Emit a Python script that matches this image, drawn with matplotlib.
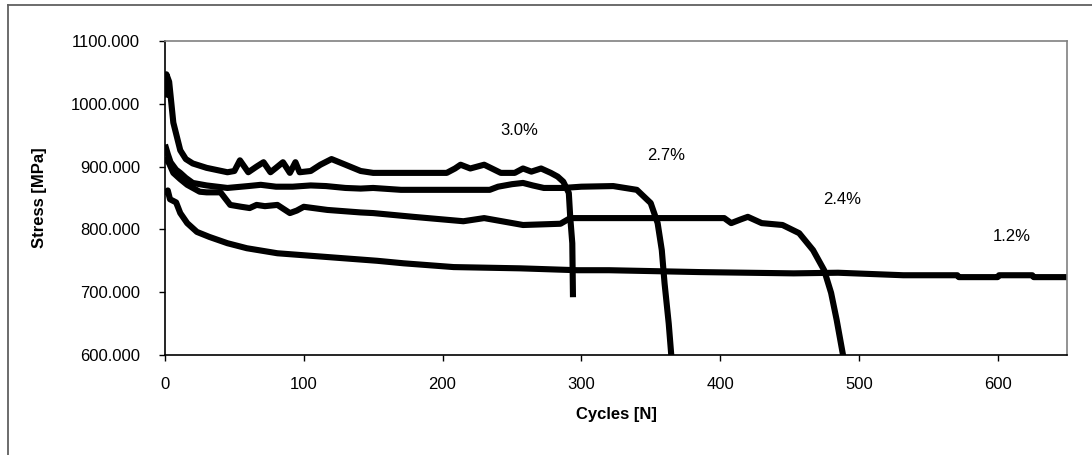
import matplotlib
matplotlib.use("Agg")
import matplotlib.pyplot as plt
from matplotlib.lines import Line2D
from matplotlib.ticker import FormatStrFormatter

plt.rcParams['font.family'] = ['Liberation Sans', 'DejaVu Sans']

# strain amplitude curves: cycles vs stress
n_30 = [0, 1, 3, 6, 11, 15, 20, 30, 45, 50, 54, 60, 66, 71, 76, 80, 85, 90, 94, 97,
        105, 112, 120, 130, 141, 150, 180, 203, 209, 213, 220, 230, 242, 252, 258,
        264, 271, 278, 283, 287, 291, 292, 293.5, 294]
s_30 = [1010, 1047, 1035, 970, 926, 912, 905, 898, 891, 893, 910, 891, 900, 907, 891,
        898, 907, 890, 907, 891, 893, 903, 912, 903, 893, 890, 890, 890, 897, 903, 897,
        903, 890, 890, 897, 892, 897, 890, 884, 876, 858, 820, 778, 692]

n_27 = [0, 2, 4, 8, 11, 15, 20, 30, 45, 60, 69, 80, 92, 105, 116, 130, 141, 150, 170,
        200, 234, 240, 250, 258, 265, 273, 287, 300, 323, 340, 350, 355, 358, 360, 363, 365]
s_27 = [935, 920, 907, 895, 890, 882, 874, 870, 866, 869, 871, 868, 868, 870, 869, 866,
        865, 866, 863, 863, 863, 868, 872, 874, 870, 866, 866, 868, 869, 863, 842, 810,
        767, 714, 650, 595]

n_24 = [0, 3, 6, 11, 16, 25, 30, 40, 47, 55, 61, 66, 72, 81, 90, 95, 100, 117, 141,
        150, 179, 215, 230, 258, 285, 292, 295, 320, 360, 403, 408, 415, 420, 430, 445,
        457, 467, 475, 480, 484, 489]
s_24 = [915, 905, 890, 880, 871, 860, 859, 859, 839, 836, 834, 839, 837, 839, 826, 830,
        836, 831, 827, 826, 820, 813, 818, 807, 809, 818, 818, 818, 818, 818, 810, 816,
        820, 810, 807, 794, 767, 735, 699, 656, 595]

n_12 = [0, 2, 3.6, 8, 11, 16, 23, 32, 45, 59, 81, 105, 129, 153, 172, 208, 256, 297,
        320, 386, 453, 485, 532, 571, 572, 600, 601, 625, 626, 650]
s_12 = [855, 862, 848, 843, 826, 810, 796, 788, 778, 770, 762, 758, 754, 750, 746, 740,
        738, 735, 735, 732, 730, 731, 727, 727, 724, 724, 727, 727, 724, 724]

labels = ['3.0%', '2.7%', '2.4%', '1.2%']
label_x = [255, 361, 488, 610]
label_y = [958, 918, 848, 788]

fig = plt.figure(figsize=(10.92, 4.55), dpi=100)
ax = fig.add_axes([165 / 1092, 1 - 355 / 455, (1067 - 165) / 1092, (355 - 41) / 455])

for n, s in [(n_30, s_30), (n_27, s_27), (n_24, s_24), (n_12, s_12)]:
    ax.plot(n, s, color='black', lw=4.4, solid_joinstyle='round', solid_capstyle='butt')

for lab, lx, ly in zip(labels, label_x, label_y):
    ax.text(lx, ly, lab, fontsize=12, ha='center', va='center')

ax.set_xlim(0, 650)
ax.set_ylim(600, 1100)
ax.set_xticks(range(0, 700, 100))
ax.set_yticks(range(600, 1200, 100))
ax.yaxis.set_major_formatter(FormatStrFormatter('%.3f'))
ax.tick_params(direction='out', length=4, width=1, labelsize=12)
ax.tick_params(axis='y', pad=14)
ax.tick_params(axis='x', pad=12)

ax.set_xlabel('Cycles [N]', fontsize=12, fontweight='bold', labelpad=11)
ax.set_ylabel('Stress [MPa]', fontsize=12, fontweight='bold', labelpad=17)

for side in ['left', 'bottom']:
    ax.spines[side].set_color('black')
    ax.spines[side].set_linewidth(1.2)
for side in ['top', 'right']:
    ax.spines[side].set_color('#808080')
    ax.spines[side].set_linewidth(1.2)

# outer chart-area border
fig.add_artist(Line2D([8 / 1092, 8 / 1092], [0, 1 - 5 / 455], color='#606060', lw=1.3))
fig.add_artist(Line2D([8 / 1092, 1], [1 - 5 / 455, 1 - 5 / 455], color='#606060', lw=1.3))

fig.savefig('out.png', dpi=100)
